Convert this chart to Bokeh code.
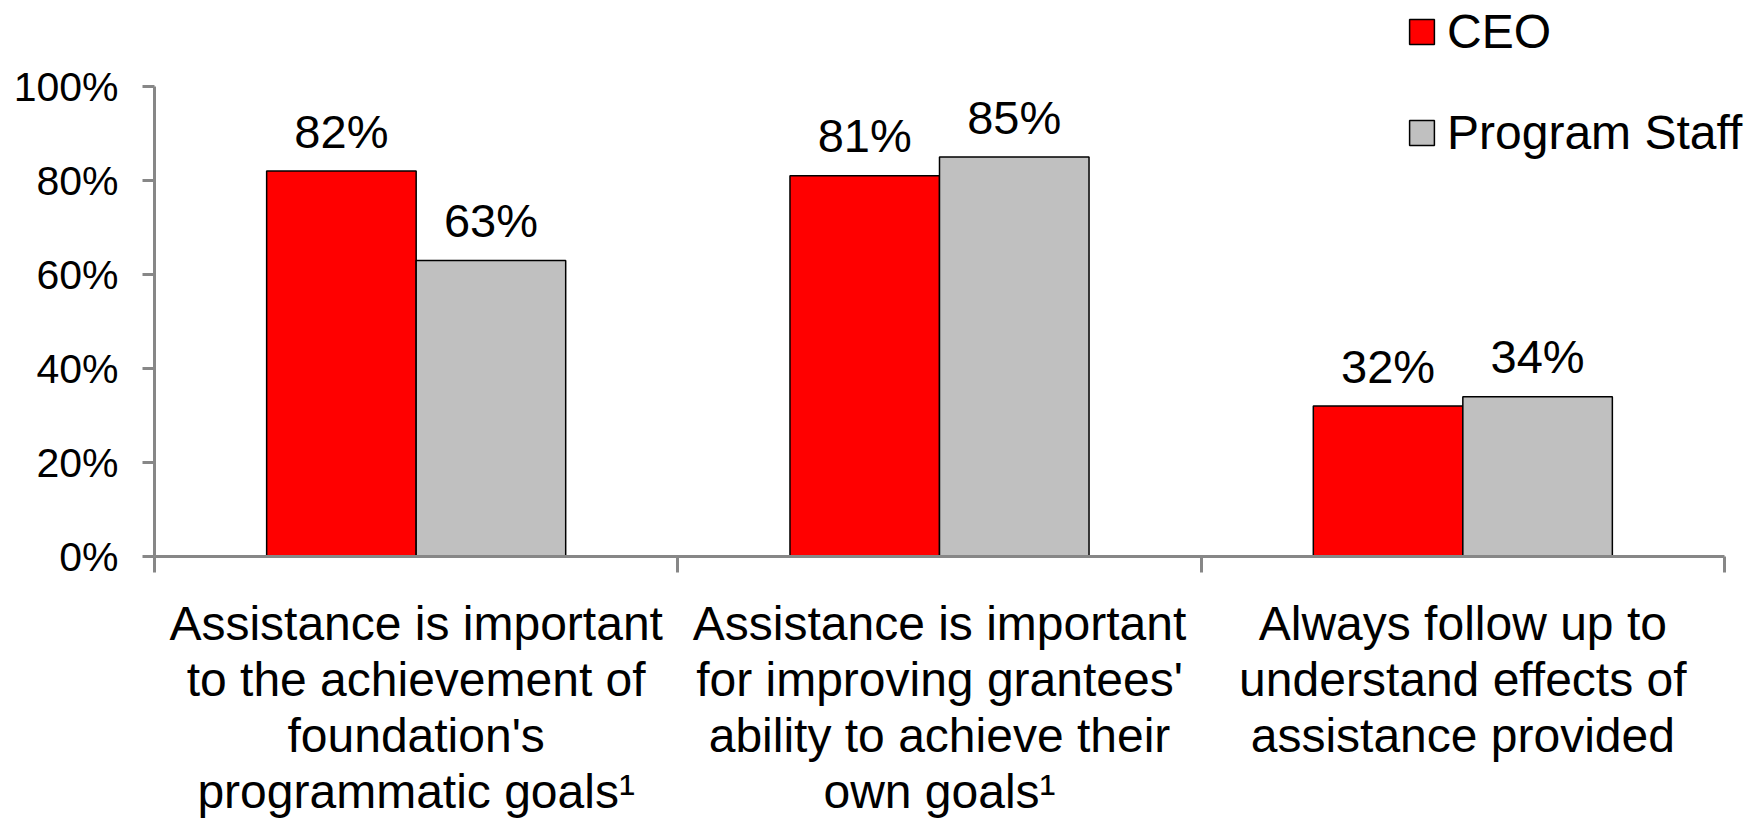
from bokeh.plotting import figure
from bokeh.models import Range1d, FixedTicker, Legend, LegendItem, ColumnDataSource
from bokeh.transform import dodge
from bokeh.core.properties import value
from bokeh.embed import file_html
from bokeh.resources import INLINE

categories = [
    "Assistance is important\nto the achievement of\nfoundation's\nprogrammatic goals\u00b9",
    "Assistance is important\nfor improving grantees'\nability to achieve their\nown goals\u00b9",
    "Always follow up to\nunderstand effects of\nassistance provided",
]
ceo = [0.82, 0.81, 0.32]
program_staff = [0.63, 0.85, 0.34]
series_names = ["CEO", "Program Staff"]
y_ticks = [0.0, 0.2, 0.4, 0.6, 0.8, 1.0]
y_tick_labels = ["0%", "20%", "40%", "60%", "80%", "100%"]

FONT = "Liberation Sans"
AXIS_GRAY = "#878787"
RED = "#FF0000"
GRAY = "#C0C0C0"
BAR_W = 2.0 / 7.0

# frame geometry (pixels)
PX_PER_CAT = 1570.0 / 3.0
PX_PER_UNIT_Y = 470.0
LEFT = 154
FRAME_W = 1758 - LEFT
FRAME_H = 556

xs = list(range(len(categories)))
src = ColumnDataSource(dict(
    x=xs,
    ceo=ceo,
    staff=program_staff,
    ceo_lbl=[f"{round(v * 100)}%" for v in ceo],
    staff_lbl=[f"{round(v * 100)}%" for v in program_staff],
))

p = figure(
    frame_width=FRAME_W, frame_height=FRAME_H,
    x_range=Range1d(-0.5, -0.5 + FRAME_W / PX_PER_CAT),
    y_range=Range1d(0, FRAME_H / PX_PER_UNIT_Y),
    output_backend="svg", toolbar_location=None,
    min_border_left=LEFT, min_border_top=0, min_border_right=0, min_border_bottom=262,
)
p.xgrid.visible = False
p.ygrid.visible = False
p.outline_line_color = None
p.background_fill_color = "white"
p.border_fill_color = "white"

r1 = p.vbar(x=dodge("x", -BAR_W / 2), top="ceo", width=BAR_W, source=src,
            fill_color=RED, line_color="#000000", line_width=1.5)
r2 = p.vbar(x=dodge("x", BAR_W / 2), top="staff", width=BAR_W, source=src,
            fill_color=GRAY, line_color="#000000", line_width=1.5)

for col, lbl, off in (("ceo", "ceo_lbl", -BAR_W / 2), ("staff", "staff_lbl", BAR_W / 2)):
    p.text(x=dodge("x", off), y=col, text=lbl, source=src,
           text_align="center", text_baseline="alphabetic", y_offset=-40,
           text_font=value(FONT), text_font_size="47px", text_color="black")

# y axis
ya = p.yaxis[0]
ya.bounds = (0, 1)
ya.ticker = FixedTicker(ticks=y_ticks, minor_ticks=[])
ya.major_label_overrides = {t: l for t, l in zip(y_ticks, y_tick_labels)}
ya.axis_line_color = AXIS_GRAY
ya.axis_line_width = 3
ya.major_tick_line_color = AXIS_GRAY
ya.major_tick_line_width = 3
ya.major_tick_out = 12
ya.major_tick_in = 0
ya.minor_tick_line_color = None
ya.major_label_standoff = 24
ya.major_label_text_font = FONT
ya.major_label_text_font_size = "41px"
ya.major_label_text_color = "black"

# x axis
xa = p.xaxis[0]
xa.bounds = (-0.5, xs[-1] + 0.5)
xa.ticker = FixedTicker(ticks=xs, minor_ticks=[x - 0.5 for x in xs] + [xs[-1] + 0.5])
xa.major_label_overrides = {x: c for x, c in zip(xs, categories)}
xa.axis_line_color = AXIS_GRAY
xa.axis_line_width = 3
xa.major_tick_line_color = None
xa.major_tick_out = 0
xa.major_tick_in = 0
xa.minor_tick_line_color = AXIS_GRAY
xa.minor_tick_line_width = 3
xa.minor_tick_out = 16
xa.minor_tick_in = 0
xa.major_label_standoff = 24
xa.major_label_text_font = FONT
xa.major_label_text_font_size = "48px"
xa.major_label_text_color = "black"
xa.major_label_text_line_height = 1.06

legend = Legend(
    items=[LegendItem(label=series_names[0], renderers=[r1]),
           LegendItem(label=series_names[1], renderers=[r2])],
    location=(1252, 396),
    glyph_width=31, glyph_height=31,
    label_text_font=FONT, label_text_font_size="48px", label_text_color="black",
    label_standoff=10, spacing=46, padding=0, margin=0,
    border_line_color=None, background_fill_alpha=0,
)
p.add_layout(legend)

open("out.html", "w").write(file_html(p, INLINE))
